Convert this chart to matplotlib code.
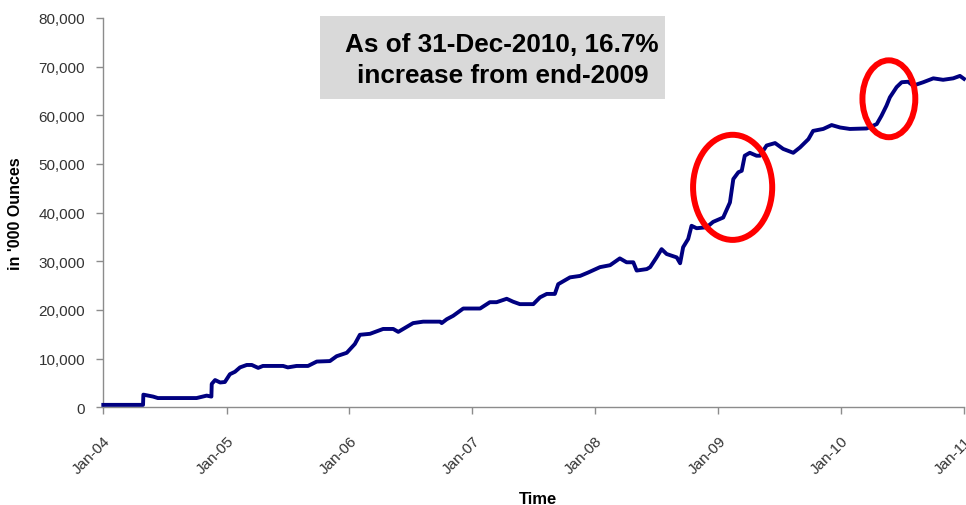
import matplotlib
matplotlib.use("Agg")
import matplotlib.pyplot as plt
import matplotlib.dates as mdates
from matplotlib.patches import Ellipse, Rectangle
from matplotlib.ticker import FuncFormatter
import numpy as np

plt.rcParams['font.family'] = ['Liberation Sans', 'DejaVu Sans']

dates = ["2004-01-01", "2004-04-28", "2004-04-29", "2004-05-28", "2004-06-11", "2004-10-04",
         "2004-11-03", "2004-11-17", "2004-11-18", "2004-11-28", "2004-12-13", "2004-12-27",
         "2005-01-11", "2005-01-26", "2005-02-10", "2005-03-02", "2005-03-17", "2005-04-05",
         "2005-04-19", "2005-06-18", "2005-07-02", "2005-07-28", "2005-08-31", "2005-09-26",
         "2005-11-04", "2005-11-24", "2005-12-24", "2006-01-17", "2006-02-01", "2006-03-03",
         "2006-04-11", "2006-05-11", "2006-05-26", "2006-07-09", "2006-08-08", "2006-09-27",
         "2006-10-02", "2006-10-17", "2006-11-05", "2006-12-05", "2007-01-24", "2007-02-22",
         "2007-03-14", "2007-04-13", "2007-05-02", "2007-05-22", "2007-07-01", "2007-07-21",
         "2007-08-10", "2007-09-03", "2007-09-13", "2007-10-18", "2007-11-17", "2007-12-11",
         "2008-01-15", "2008-02-14", "2008-03-14", "2008-04-03", "2008-04-23", "2008-05-03",
         "2008-06-02", "2008-06-12", "2008-07-01", "2008-07-16", "2008-07-31", "2008-08-30",
         "2008-09-09", "2008-09-18", "2008-10-03", "2008-10-13", "2008-10-28", "2008-11-27",
         "2008-12-16", "2009-01-15", "2009-02-04", "2009-02-14", "2009-03-01", "2009-03-11",
         "2009-03-20", "2009-04-04", "2009-04-24", "2009-05-04", "2009-05-24", "2009-06-18",
         "2009-07-12", "2009-08-11", "2009-08-31", "2009-09-25", "2009-10-09", "2009-11-08",
         "2009-12-03", "2009-12-28", "2010-01-26", "2010-03-17", "2010-04-16", "2010-04-30",
         "2010-05-15", "2010-05-25", "2010-06-14", "2010-06-29", "2010-07-18", "2010-08-02",
         "2010-09-01", "2010-10-01", "2010-10-30", "2010-11-29", "2010-12-19", "2010-12-31"]

holdings = [500, 500, 2600, 2200, 1900, 1900,
            2400, 2200, 4800, 5600, 5100, 5200,
            6800, 7300, 8200, 8700, 8700, 8100,
            8500, 8500, 8200, 8500, 8500, 9400,
            9500, 10500, 11200, 13000, 14900, 15100,
            16100, 16100, 15500, 17300, 17600, 17600,
            17300, 18100, 18800, 20300, 20300, 21600,
            21600, 22300, 21700, 21200, 21200, 22600,
            23300, 23300, 25300, 26700, 27000, 27700,
            28800, 29200, 30600, 29800, 29800, 28100,
            28400, 28800, 30800, 32500, 31500, 30800,
            29600, 32900, 34600, 37300, 36800, 37000,
            38100, 39000, 42100, 46900, 48300, 48600,
            51700, 52300, 51700, 51700, 53800, 54300,
            53100, 52300, 53400, 55100, 56800, 57200,
            58000, 57500, 57200, 57300, 58200, 59900,
            62000, 63700, 65800, 66800, 66900, 66100,
            66800, 67600, 67300, 67600, 68100, 67500]

tick_dates = ["2004-01-01", "2005-01-01", "2006-01-01", "2007-01-01",
              "2008-01-01", "2009-01-01", "2010-01-01", "2011-01-01"]
tick_labels = ["Jan-04", "Jan-05", "Jan-06", "Jan-07", "Jan-08", "Jan-09", "Jan-10", "Jan-11"]
y_ticks = [0, 10000, 20000, 30000, 40000, 50000, 60000, 70000, 80000]

circle_centers = ["2009-02-12", "2010-05-22"]
circle_values = [45200, 63400]
circle_widths_days = [235, 157]
circle_heights = [21600, 15800]

annotation_lines = ["As of 31-Dec-2010, 16.7%", "increase from end-2009"]

W, H = 966, 506
x = mdates.datestr2num(dates)
fig = plt.figure(figsize=(W/100, H/100), dpi=100)
ax = fig.add_axes([103.3/W, (H-408.3)/H, (964.3-103.3)/W, (408.3-19)/H])

ax.plot(x, holdings, color='#000080', lw=2.8, solid_joinstyle='round', clip_on=False, zorder=3)

for c, v, w, h in zip(circle_centers, circle_values, circle_widths_days, circle_heights):
    ax.add_patch(Ellipse((mdates.datestr2num(c), v), w, h, fill=False,
                         edgecolor='#ff0000', lw=4.3, zorder=4, clip_on=False))

ax.set_xlim(mdates.datestr2num(tick_dates[0]), mdates.datestr2num(tick_dates[-1]))
ax.set_ylim(0, 80000)
ax.set_xticks(mdates.datestr2num(tick_dates))
ax.set_xticklabels(tick_labels, rotation=45, ha='right', rotation_mode='anchor',
                   fontsize=11, color='#333333')
ax.set_yticks(y_ticks)
ax.yaxis.set_major_formatter(FuncFormatter(lambda v, p: f"{int(v):,}"))
for lab in ax.get_yticklabels():
    lab.set_fontsize(11)
    lab.set_color('#333333')

for s in ['top', 'right']:
    ax.spines[s].set_visible(False)
for s in ['left', 'bottom']:
    ax.spines[s].set_color('#8c8c8c')
    ax.spines[s].set_linewidth(1.0)
ax.tick_params(axis='both', direction='out', length=5, color='#8c8c8c', width=1.0)
ax.tick_params(axis='y', pad=8)
ax.tick_params(axis='x', pad=14)

ax.set_ylabel("in '000 Ounces", fontsize=11.5, fontweight='bold', labelpad=11)
ax.set_xlabel("Time", fontsize=12, fontweight='bold', va='baseline')
ax.xaxis.set_label_coords((538-103.3)/(964.3-103.3), -(504-408.3)/(408.3-19))

fig.patches.append(Rectangle((320/W, (H-100)/H), 345/W, 83.3/H,
                             transform=fig.transFigure, facecolor='#d9d9d9',
                             edgecolor='none', zorder=5))
fig.text(501.5/W, (H-51.7)/H, annotation_lines[0], ha='center', va='baseline',
         fontsize=18.8, fontweight='bold', zorder=6, color='#000000')
fig.text(502.5/W, (H-83.3)/H, annotation_lines[1], ha='center', va='baseline',
         fontsize=18.8, fontweight='bold', zorder=6, color='#000000')

fig.savefig("out.png", dpi=100)
